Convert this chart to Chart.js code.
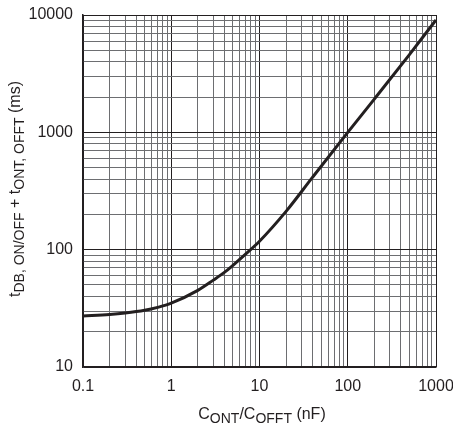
<!DOCTYPE html>
<html>
<head>
<meta charset="utf-8">
<script src="https://cdn.jsdelivr.net/npm/chart.js"></script>
<style>
  html, body { margin: 0; padding: 0; background: #fff; }
  #wrap { width: 453px; height: 426px; }
</style>
</head>
<body>
<div id="wrap"><canvas id="chart"></canvas></div>
<script>
// capacitance (nF) vs. total time (ms)
var capNF = [0.1, 0.2, 0.3, 0.5, 0.7, 1, 2, 3, 4, 5, 7, 10, 20, 40, 100, 200, 500, 1000];
var timeMS = [27.2, 28, 28.8, 30.4, 32.2, 35, 45, 55, 64, 73.5, 92, 118, 212, 415, 1000, 1920, 4600, 9080];

var xDecades = [0.1, 1, 10, 100, 1000];
var yDecades = [10, 100, 1000, 10000];

var MAJOR = '#231f20';
var MINOR = '#6d6e71';
var FONT = 'Liberation Sans, Arial, sans-serif';

function logTicks(decades) {
    var out = [];
    decades.forEach(function (d, i) {
        if (i == decades.length - 1) { out.push(d); return; }
        for (var k = 1; k < 10; k++) out.push(+(d * k).toPrecision(3));
    });
    return out;
}
function isMajor(v, decades) {
    return decades.some(function (d) { return Math.abs(v - d) < d * 1e-6; });
}

// text with subscript pieces, centred on the origin of the current transform
function drawRich(ctx, parts) {
    var total = 0;
    parts.forEach(function (p) {
        ctx.font = (p.sub ? '14px ' : '16px ') + FONT;
        p.w = ctx.measureText(p.t).width;
        total += p.w;
    });
    var x = -total / 2;
    parts.forEach(function (p) {
        ctx.font = (p.sub ? '14px ' : '16px ') + FONT;
        ctx.fillText(p.t, x, p.sub ? 4 : 0);
        x += p.w;
    });
}

var axisTitles = {
    id: 'axisTitles',
    afterDraw: function (chart) {
        var ctx = chart.ctx;
        ctx.save();
        ctx.fillStyle = MAJOR;
        ctx.textBaseline = 'alphabetic';
        ctx.textAlign = 'left';
        ctx.translate(262, 419);
        drawRich(ctx, [
            {t: 'C'}, {t: 'ONT', sub: true}, {t: '/C'}, {t: 'OFFT', sub: true}, {t: ' (nF)'}
        ]);
        ctx.restore();

        ctx.save();
        ctx.fillStyle = MAJOR;
        ctx.textBaseline = 'alphabetic';
        ctx.textAlign = 'left';
        ctx.translate(20, 189);
        ctx.rotate(-Math.PI / 2);
        drawRich(ctx, [
            {t: 't'}, {t: 'DB, ON/OFF', sub: true}, {t: ' + t'}, {t: 'ONT, OFFT', sub: true}, {t: ' (ms)'}
        ]);
        ctx.restore();
    }
};

var pts = capNF.map(function (c, i) { return {x: c, y: timeMS[i]}; });

new Chart(document.getElementById('chart'), {
    type: 'line',
    data: {
        datasets: [{
            data: pts,
            borderColor: MAJOR,
            borderWidth: 3,
            pointRadius: 0,
            cubicInterpolationMode: 'monotone',
            fill: false
        }]
    },
    options: {
        responsive: true,
        maintainAspectRatio: false,
        animation: false,
        layout: { padding: { left: 0, right: 17, top: 15, bottom: 0 } },
        plugins: { legend: { display: false }, tooltip: { enabled: false } },
        scales: {
            x: {
                type: 'logarithmic',
                min: 0.1, max: 1000,
                afterBuildTicks: function (s) {
                    s.ticks = logTicks(xDecades).map(function (v) { return {value: v}; });
                },
                afterFit: function (s) {
                    s.height = 59;
                    s.paddingLeft = 0; s.paddingRight = 0;
                },
                ticks: {
                    autoSkip: false, maxRotation: 0, padding: 10,
                    color: MAJOR,
                    font: { family: FONT, size: 16 },
                    callback: function (v) { return isMajor(v, xDecades) ? String(v) : ''; }
                },
                grid: {
                    drawTicks: false,
                    color: function (c) { return c.tick && isMajor(c.tick.value, xDecades) ? MAJOR : MINOR; },
                    lineWidth: 1
                },
                border: { color: MAJOR, width: 1.5 }
            },
            y: {
                type: 'logarithmic',
                min: 10, max: 10000,
                afterBuildTicks: function (s) {
                    s.ticks = logTicks(yDecades).map(function (v) { return {value: v}; });
                },
                afterFit: function (s) {
                    s.width = 83;
                    s.paddingTop = 0; s.paddingBottom = 0;
                },
                ticks: {
                    autoSkip: false, padding: 10,
                    color: MAJOR,
                    font: { family: FONT, size: 16 },
                    callback: function (v) { return isMajor(v, yDecades) ? String(v) : ''; }
                },
                grid: {
                    drawTicks: false,
                    color: function (c) { return c.tick && isMajor(c.tick.value, yDecades) ? MAJOR : MINOR; },
                    lineWidth: 1
                },
                border: { color: MAJOR, width: 1.5 }
            }
        }
    },
    plugins: [axisTitles]
});
</script>
</body>
</html>
